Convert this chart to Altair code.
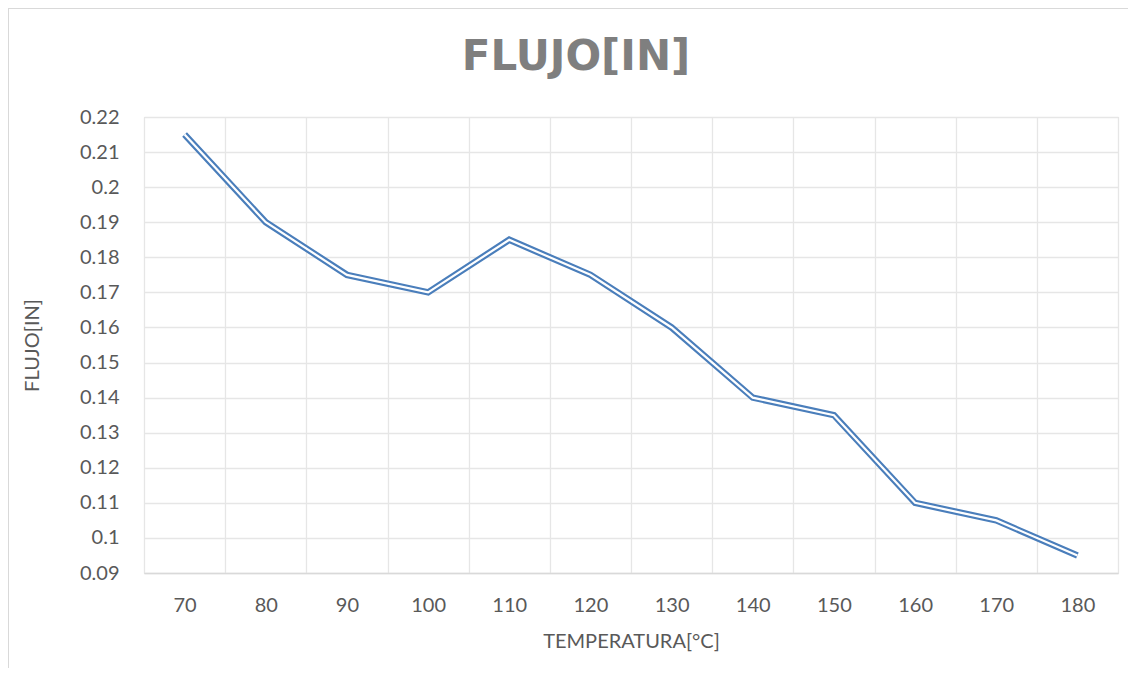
import altair as alt
import pandas as pd

temperatura = [70, 80, 90, 100, 110, 120, 130, 140, 150, 160, 170, 180]
flujo = [0.215, 0.190, 0.175, 0.170, 0.185, 0.175, 0.160, 0.140, 0.135, 0.110, 0.105, 0.095]
y_ticks = [0.09, 0.10, 0.11, 0.12, 0.13, 0.14, 0.15, 0.16, 0.17, 0.18, 0.19, 0.20, 0.21, 0.22]

df = pd.DataFrame({"t": temperatura, "f": flujo})

FONT = "Lato"
LBL = "#595959"
GRID = "#e6e6e6"
BLUE = "#4A7EBB"

x_enc = alt.X(
    "t:O",
    scale=alt.Scale(paddingInner=0, paddingOuter=0),
    axis=alt.Axis(
        title="TEMPERATURA[°C]",
        labelAngle=0,
        labelFont=FONT, labelFontSize=20, labelColor=LBL,
        labelBaseline="middle", labelPadding=32,
        ticks=False, tickSize=0,
        tickBand="extent",
        grid=True, gridColor=GRID, gridWidth=1.3,
        domain=True, domainColor="#d9d9d9", domainWidth=1.3,
        titleFont=FONT, titleFontSize=20, titleFontWeight="normal", titleColor=LBL,
        titleX=487, titleY=68, titleBaseline="middle", titleAlign="center",
    ),
)

y_enc = alt.Y(
    "f:Q",
    scale=alt.Scale(domain=[0.09, 0.22], nice=False, zero=False),
    axis=alt.Axis(
        title="FLUJO[IN]",
        values=y_ticks, tickCount=14, format=".2~f",
        labelOverlap=False, labelFlush=False,
        labelFont=FONT, labelFontSize=20, labelColor=LBL,
        labelPadding=25, ticks=False, tickSize=0,
        grid=True, gridColor=GRID, gridWidth=1.3,
        domain=False,
        titleFont=FONT, titleFontSize=20, titleFontWeight="normal", titleColor=LBL,
        titleX=-112, titleY=228, titleAngle=270,
        titleBaseline="middle", titleAlign="center",
    ),
)

base = alt.Chart(df).encode(x=x_enc, y=y_enc)

outer = base.mark_line(strokeWidth=6.5, color=BLUE)
inner = base.mark_line(strokeWidth=2.2, color="white")

frame = alt.Chart(pd.DataFrame({"a": [0]})).mark_rect(
    fill=None, stroke="#d9d9d9", strokeWidth=2, clip=False
).encode(
    x=alt.value(-136), x2=alt.value(1000),
    y=alt.value(-109), y2=alt.value(600),
)

chart = alt.layer(frame, outer, inner).properties(
    width=974,
    height=456,
    title=alt.TitleParams(
        "FLUJO[IN]",
        font="DejaVu Sans", fontSize=42, fontWeight="bold", color="#7f7f7f",
        anchor="middle", frame="bounds", offset=0, dy=72,
    ),
    autosize=alt.AutoSizeParams(type="none"),
    padding={"left": 136, "top": 109, "right": 10, "bottom": 95},
).configure_view(stroke=None).configure(background="white")

chart.save("out.html", embed_options={"renderer": "svg", "actions": False})
